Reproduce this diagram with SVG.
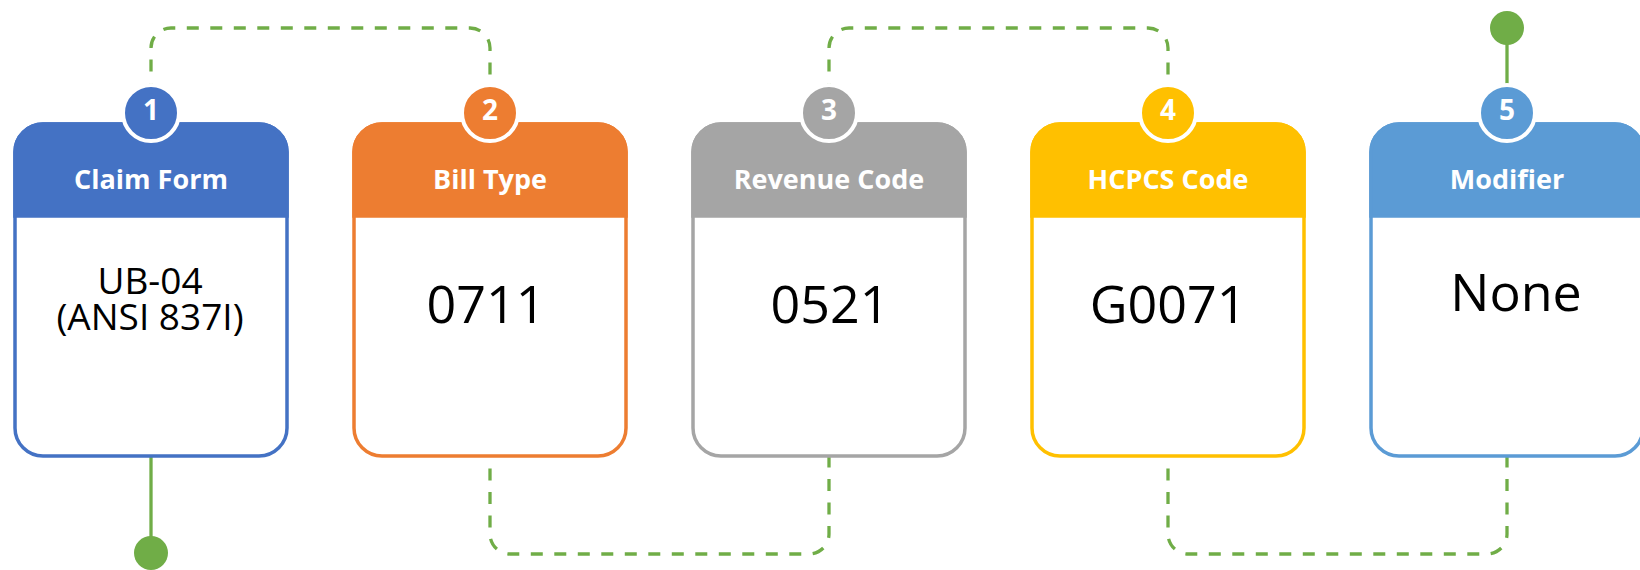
<svg xmlns="http://www.w3.org/2000/svg" width="1640" height="570" viewBox="0 0 1640 570">
  <style>
    .dash { fill: none; stroke: #70AD47; stroke-width: 3.3; stroke-dasharray: 12 11.5; }
    .solid { fill: none; stroke: #70AD47; stroke-width: 3.3; }
    .dot { fill: #70AD47; }
    .box { fill: #FFFFFF; stroke-width: 3.5; }
    .head { stroke-width: 3.5; }
    .badge { stroke: #FFFFFF; stroke-width: 4; }
    .num { font-family: "Open Sans", "Noto Sans", sans-serif; font-weight: bold; font-size: 28px; fill: #FFFFFF; text-anchor: middle; }
    .title { font-family: "Open Sans", "Noto Sans", sans-serif; font-weight: bold; font-size: 27px; fill: #FFFFFF; text-anchor: middle; }
    .val { font-family: "Open Sans", "Noto Sans", sans-serif; font-size: 52px; fill: #000000; text-anchor: middle; }
    .val2 { font-family: "Open Sans", "Noto Sans", sans-serif; font-size: 37px; fill: #000000; text-anchor: middle; }
  </style>
  <defs>
    <path id="headShape" d="M0,216 V152 A28 28 0 0 1 28,124 H244 A28 28 0 0 1 272,152 V216 Z"/>
  </defs>

  <g id="connectors">
    <path class="dash" d="M151,95 V48 A20 20 0 0 1 171,28 H470 A20 20 0 0 1 490,48 V95"/>
    <path class="dash" d="M829,95 V48 A20 20 0 0 1 849,28 H1148 A20 20 0 0 1 1168,48 V95"/>
    <path class="dash" d="M490,445 V534 A20 20 0 0 0 510,554 H809 A20 20 0 0 0 829,534 V445"/>
    <path class="dash" d="M1168,445 V534 A20 20 0 0 0 1188,554 H1487 A20 20 0 0 0 1507,534 V445"/>
    <line class="solid" x1="151" y1="450" x2="151" y2="553"/>
    <circle class="dot" cx="151" cy="553" r="17"/>
    <line class="solid" x1="1507" y1="28" x2="1507" y2="100"/>
    <circle class="dot" cx="1507" cy="28" r="17"/>
  </g>

  <g id="node1">
    <g transform="translate(15,0)">
      <rect class="box" x="0" y="124" width="272" height="332" rx="28" ry="28" stroke="#4472C4"/>
      <use href="#headShape" class="head" fill="#4472C4" stroke="#4472C4"/>
      <circle class="badge" cx="136" cy="113" r="28" fill="#4472C4"/>
      <text class="num" x="136" y="119.5">1</text>
      <text class="title" x="136" y="189">Claim Form</text>
    </g>
    <text class="val2"><tspan x="150" y="294">UB-04</tspan><tspan x="150" y="330">(ANSI 837I)</tspan></text>
  </g>

  <g id="node2">
    <g transform="translate(354,0)">
      <rect class="box" x="0" y="124" width="272" height="332" rx="28" ry="28" stroke="#ED7D31"/>
      <use href="#headShape" class="head" fill="#ED7D31" stroke="#ED7D31"/>
      <circle class="badge" cx="136" cy="113" r="28" fill="#ED7D31"/>
      <text class="num" x="136" y="119.5">2</text>
      <text class="title" x="136" y="189">Bill Type</text>
    </g>
    <text class="val" x="486" y="323">0711</text>
  </g>

  <g id="node3">
    <g transform="translate(693,0)">
      <rect class="box" x="0" y="124" width="272" height="332" rx="28" ry="28" stroke="#A5A5A5"/>
      <use href="#headShape" class="head" fill="#A5A5A5" stroke="#A5A5A5"/>
      <circle class="badge" cx="136" cy="113" r="28" fill="#A5A5A5"/>
      <text class="num" x="136" y="119.5">3</text>
      <text class="title" x="136" y="189">Revenue Code</text>
    </g>
    <text class="val" x="830" y="323">0521</text>
  </g>

  <g id="node4">
    <g transform="translate(1032,0)">
      <rect class="box" x="0" y="124" width="272" height="332" rx="28" ry="28" stroke="#FFC000"/>
      <use href="#headShape" class="head" fill="#FFC000" stroke="#FFC000"/>
      <circle class="badge" cx="136" cy="113" r="28" fill="#FFC000"/>
      <text class="num" x="136" y="119.5">4</text>
      <text class="title" x="136" y="189">HCPCS Code</text>
    </g>
    <text class="val" x="1168" y="323">G0071</text>
  </g>

  <g id="node5">
    <g transform="translate(1371,0)">
      <rect class="box" x="0" y="124" width="272" height="332" rx="28" ry="28" stroke="#5B9BD5"/>
      <use href="#headShape" class="head" fill="#5B9BD5" stroke="#5B9BD5"/>
      <circle class="badge" cx="136" cy="113" r="28" fill="#5B9BD5"/>
      <text class="num" x="136" y="119.5">5</text>
      <text class="title" x="136" y="189">Modifier</text>
    </g>
    <text class="val" x="1516" y="311">None</text>
  </g>
</svg>
